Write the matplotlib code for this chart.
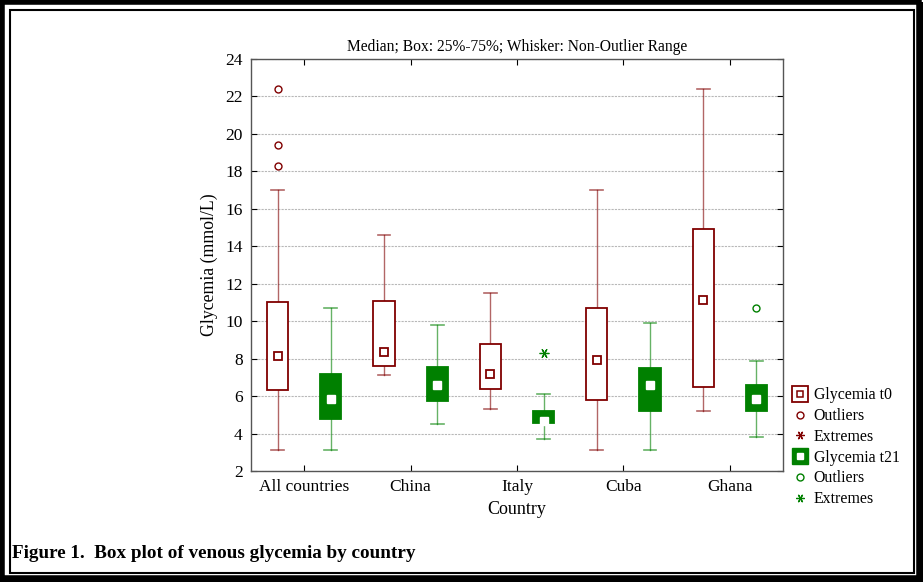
import matplotlib.pyplot as plt
import numpy as np
from matplotlib.lines import Line2D
from matplotlib.patches import Rectangle
from matplotlib.legend_handler import HandlerTuple

plt.rcParams['font.family'] = ['Liberation Serif', 'DejaVu Serif']

countries = ["All countries", "China", "Italy", "Cuba", "Ghana"]

# Glycemia t0 (mmol/L)
t0_q1 = [6.3, 7.6, 6.4, 5.8, 6.5]
t0_q3 = [11.05, 11.1, 8.8, 10.7, 14.9]
t0_med = [8.15, 8.35, 7.2, 7.95, 11.15]
t0_lo = [3.1, 7.1, 5.3, 3.1, 5.2]
t0_hi = [17.0, 14.6, 11.5, 17.0, 22.4]
t0_out = [[22.4, 19.4, 18.3], [], [], [], []]
t0_ext = [[], [], [], [], []]

# Glycemia t21 (mmol/L)
t21_q1 = [4.8, 5.75, 4.55, 5.2, 5.2]
t21_q3 = [7.2, 7.55, 5.2, 7.5, 6.6]
t21_med = [5.85, 6.6, 4.65, 6.6, 5.85]
t21_lo = [3.1, 4.5, 3.7, 3.1, 3.8]
t21_hi = [10.7, 9.8, 6.1, 9.9, 7.9]
t21_out = [[], [], [], [], [10.7]]
t21_ext = [[], [], [8.3], [], []]

red = "#800000"
green = "#008000"
asterisk = (6, 2, 90)

fig = plt.figure(figsize=(9.23, 5.82), dpi=100)
ax = fig.add_axes([251 / 923, 1 - 471 / 582, 532 / 923, 412 / 582])

w = 0.2
cap = 0.06
x = np.arange(len(countries)) + 0.5


def draw_series(xs, q1, q3, med, lo, hi, outs, exts, color, filled):
    for i, xc in enumerate(xs):
        # whiskers
        ax.plot([xc, xc], [lo[i], q1[i]], color=color, lw=1, alpha=0.6, zorder=2)
        ax.plot([xc, xc], [q3[i], hi[i]], color=color, lw=1, alpha=0.6, zorder=2)
        ax.plot([xc - cap, xc + cap], [lo[i], lo[i]], color=color, lw=1.2, alpha=0.6, zorder=2)
        ax.plot([xc - cap, xc + cap], [hi[i], hi[i]], color=color, lw=1.2, alpha=0.6, zorder=2)
        # box
        ax.add_patch(Rectangle((xc - w / 2, q1[i]), w, q3[i] - q1[i],
                               facecolor=color if filled else "white",
                               edgecolor=color, lw=1.3, zorder=3))
        # median
        if filled:
            ax.plot(xc, med[i], marker="s", ms=6, mfc="white", mec="white", zorder=4)
        else:
            ax.plot(xc, med[i], marker="s", ms=6, mfc="white", mec=color, mew=1.3, zorder=4)
        if outs[i]:
            ax.plot([xc] * len(outs[i]), outs[i], ls="none", marker="o", ms=5,
                    mfc="none", mec=color, mew=1, zorder=4)
        if exts[i]:
            ax.plot([xc] * len(exts[i]), exts[i], ls="none", marker=asterisk, ms=7,
                    mec=color, mew=0.9, zorder=4)


draw_series(x - 0.25, t0_q1, t0_q3, t0_med, t0_lo, t0_hi, t0_out, t0_ext, red, False)
draw_series(x + 0.25, t21_q1, t21_q3, t21_med, t21_lo, t21_hi, t21_out, t21_ext, green, True)

ax.set_xlim(0, len(countries))
ax.set_ylim(2, 24)
ax.set_yticks(np.arange(2, 25, 2))
ax.set_xticks(x)
ax.set_xticklabels(countries, fontsize=12.5)
ax.tick_params(axis="y", labelsize=12.5)
ax.tick_params(direction="in", top=True, right=True, length=4, color="black", pad=6)
ax.grid(axis="y", ls=(0, (2, 1)), color="#b8b8b8", lw=0.8)
ax.set_axisbelow(True)
for s in ax.spines.values():
    s.set_color("#555555")
    s.set_linewidth(1)

ax.set_xlabel("Country", fontsize=13)
ax.set_ylabel("Glycemia (mmol/L)", fontsize=12.8, labelpad=5)
ax.set_title("Median; Box: 25%-75%; Whisker: Non-Outlier Range", fontsize=11.2, pad=6)

# legend
h_t0 = (Line2D([], [], ls="none", marker="s", ms=12, mfc="white", mec=red, mew=1.3),
        Line2D([], [], ls="none", marker="s", ms=5, mfc="white", mec=red, mew=1.1))
h_t21 = (Line2D([], [], ls="none", marker="s", ms=12, mfc=green, mec=green),
         Line2D([], [], ls="none", marker="s", ms=5, mfc="white", mec="white"))
handles = [h_t0,
           Line2D([], [], ls="none", marker="o", ms=5, mfc="none", mec=red),
           Line2D([], [], ls="none", marker=asterisk, ms=6, mec=red, mew=0.9),
           h_t21,
           Line2D([], [], ls="none", marker="o", ms=5, mfc="none", mec=green),
           Line2D([], [], ls="none", marker=asterisk, ms=6, mec=green, mew=0.9)]
labels = ["Glycemia t0", "Outliers", "Extremes", "Glycemia t21", "Outliers", "Extremes"]
fig.legend(handles, labels, handler_map={tuple: HandlerTuple(ndivide=1, pad=0)},
           loc="upper left", bbox_to_anchor=(786 / 923, 1 - 381 / 582),
           frameon=False, fontsize=11.4, handlelength=1.0, handletextpad=0.35,
           labelspacing=0.3, borderaxespad=0)

fig.text(12 / 923, 1 - 553 / 582, "Figure 1.  Box plot of venous glycemia by country",
         fontsize=13.8, fontweight="bold", va="center", ha="left")

# page frame
fig.patches.append(Rectangle((2 / 923, 4 / 582), 917 / 923, 576 / 582, transform=fig.transFigure,
                             fill=False, ec="black", lw=4))
fig.patches.append(Rectangle((917 / 923, 0), 6 / 923, 580 / 582, transform=fig.transFigure,
                             fc="black", ec="none"))
fig.patches.append(Rectangle((0, 0), 1, 5 / 582, transform=fig.transFigure,
                             fc="black", ec="none"))
fig.patches.append(Rectangle((9.5 / 923, 9.5 / 582), 904 / 923, 563 / 582, transform=fig.transFigure,
                             fill=False, ec="black", lw=1.5))

fig.savefig("out.png", dpi=100)
